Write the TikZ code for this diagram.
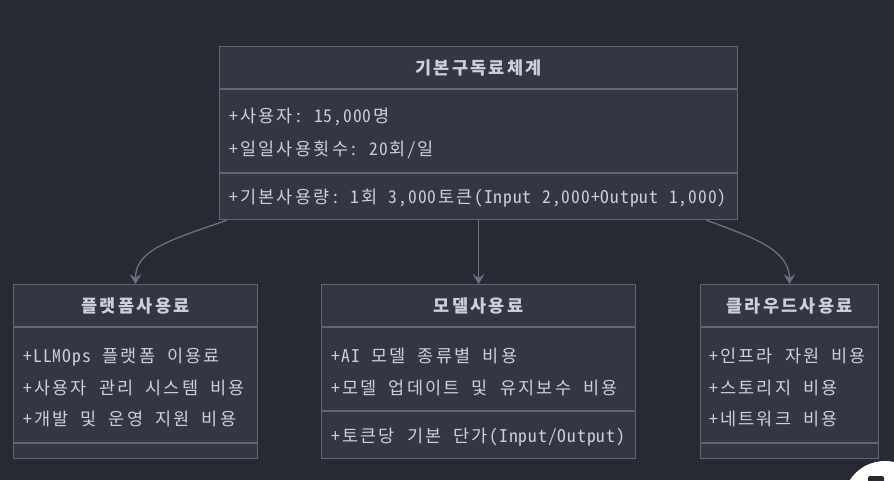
\documentclass[tikz,border=0pt]{standalone}
\usepackage{fontspec}
\usetikzlibrary{arrows.meta}
\setmainfont{Noto Sans CJK KR}[RawFeature=+hwid]
\ExplSyntaxOn
\NewDocumentCommand\mono{m}
 {
  \str_map_inline:nn {#1}
   {
    \str_if_eq:nnTF {##1} {~}
     { \hbox_to_wd:nn {9.74pt} { } }
     {
      \int_compare:nNnTF {`##1} > {255}
       { \hbox_to_wd:nn {18.4pt} { \hfil ##1 \hfil } }
       { \hbox_to_wd:nn {9.74pt} { \hfil ##1 \hfil } }
     }
   }
 }
\ExplSyntaxOff
\definecolor{bgcol}{RGB}{40,42,51}
\definecolor{boxfill}{RGB}{52,55,67}
\definecolor{bordercol}{RGB}{96,102,120}
\definecolor{txtcol}{RGB}{204,208,218}
\definecolor{arrcol}{RGB}{106,114,134}
\tikzset{
  umlbox/.style={draw=bordercol, fill=boxfill, line width=1.2pt, anchor=north west, inner sep=0pt, minimum height=174pt},
  divider/.style={draw=bordercol, line width=1.2pt},
  txt/.style={anchor=west, inner sep=0pt, text=txtcol, font=\fontsize{17.5}{20}\selectfont, text height=12pt, text depth=3pt},
  hdr/.style={anchor=center, inner sep=0pt, text=txtcol, font=\fontsize{17.5}{20}\selectfont\bfseries, text height=12pt, text depth=3pt},
  conn/.style={draw=arrcol, line width=1.3pt, -{Stealth[length=10pt, width=12pt, inset=4pt]}}
}
\begin{document}
\begin{tikzpicture}[x=1pt, y=-1pt]
\fill[bgcol] (0,0) rectangle (894,480);
\useasboundingbox (0,0) rectangle (894,480);
% top class
\node[umlbox, minimum width=518pt, minimum height=173pt] (top) at (219,46) {};
\draw[divider] (top.west |- 0,89) -- (top.east |- 0,89);
\draw[divider] (top.west |- 0,173) -- (top.east |- 0,173);
\node[hdr] (toph) at (top.north |- 0,70) {\mono{기본구독료체계}};
\node[txt] (ta1) at (229,118) {\mono{+사용자: 15,000명}};
\node[txt] (ta2) at (229,151) {\mono{+일일사용횟수: 20회/일}};
\node[txt] (tm1) at (229,199) {\mono{+기본사용량: 1회 3,000토큰(Input 2,000+Output 1,000)}};
% left class
\node[umlbox, minimum width=244pt] (left) at (13,284) {};
\draw[divider] (left.west |- 0,327) -- (left.east |- 0,327);
\draw[divider] (left.west |- 0,443) -- (left.east |- 0,443);
\node[hdr] (lefth) at (left.north |- 0,308) {\mono{플랫폼사용료}};
\node[txt] (la1) at (23,358) {\mono{+LLMOps 플랫폼 이용료}};
\node[txt] (la2) at (23,390) {\mono{+사용자 관리 시스템 비용}};
\node[txt] (la3) at (23,421) {\mono{+개발 및 운영 지원 비용}};
% middle class
\node[umlbox, minimum width=314pt] (mid) at (321,284) {};
\draw[divider] (mid.west |- 0,327) -- (mid.east |- 0,327);
\draw[divider] (mid.west |- 0,411) -- (mid.east |- 0,411);
\node[hdr] (midh) at (mid.north |- 0,308) {\mono{모델사용료}};
\node[txt] (ma1) at (331,358) {\mono{+AI 모델 종류별 비용}};
\node[txt] (ma2) at (331,390) {\mono{+모델 업데이트 및 유지보수 비용}};
\node[txt] (mm1) at (331,438) {\mono{+토큰당 기본 단가(Input/Output)}};
% right class
\node[umlbox, minimum width=178pt] (right) at (700,284) {};
\draw[divider] (right.west |- 0,327) -- (right.east |- 0,327);
\draw[divider] (right.west |- 0,443) -- (right.east |- 0,443);
\node[hdr] (righth) at (right.north |- 0,308) {\mono{클라우드사용료}};
\node[txt] (ra1) at (709,358) {\mono{+인프라 자원 비용}};
\node[txt] (ra2) at (709,390) {\mono{+스토리지 비용}};
\node[txt] (ra3) at (709,421) {\mono{+네트워크 비용}};
% connectors
\draw[conn] ([xshift=8pt]top.south west) .. controls (170,240) and (135,250) .. (left.north);
\draw[conn] (top.south) -- (mid.north);
\draw[conn] ([xshift=-32pt]top.south east) .. controls (755,238) and (789,250) .. (right.north);
% corner button
\begin{scope}
\clip (0,0) rectangle (894,480);
\fill[white] (885,503) circle (42pt);
\fill[bgcol, rounded corners=2pt] (868,476) rectangle (884,486);
\end{scope}
\end{tikzpicture}
\end{document}
